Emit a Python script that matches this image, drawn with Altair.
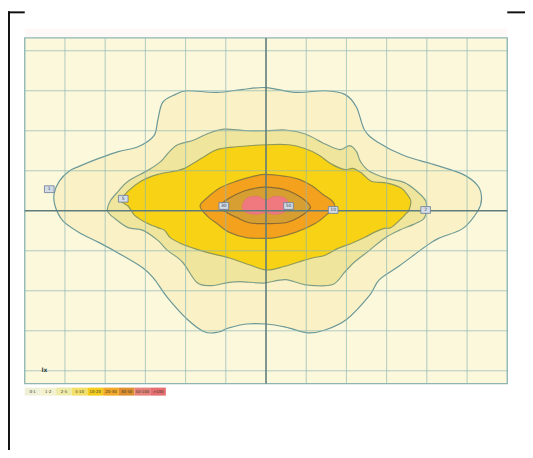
import altair as alt
import pandas as pd

# ---- plot extent (grid units) ----
X_MIN, X_MAX = -6.0, 6.0
Y_MIN, Y_MAX = -4.32, 4.32
GRID_X = list(range(-6, 7))
GRID_Y = list(range(-4, 5))

# ---- isolux contours, outer to inner (x, y in grid units) ----
C1 = [(0, 3.08), (0.73, 2.96), (1.47, 3.00), (1.96, 2.91), (2.25, 2.59), (2.45, 2.02), (2.77, 1.72),
      (3.43, 1.38), (4.16, 1.16), (4.90, 0.91), (5.27, 0.62), (5.36, 0.30), (5.27, 0.00), (4.90, -0.44),
      (4.29, -0.69), (3.97, -0.89), (3.31, -1.38), (2.82, -1.72), (2.57, -2.12), (2.01, -2.71),
      (1.47, -2.98), (1.03, -3.05), (0.49, -2.91), (0, -2.83), (-0.49, -2.83), (-0.93, -2.93),
      (-1.18, -3.03), (-1.52, -3.03), (-1.96, -2.71), (-2.45, -2.17), (-2.77, -1.72), (-3.06, -1.43),
      (-3.67, -1.06), (-4.16, -0.79), (-4.65, -0.54), (-5.05, -0.25), (-5.24, 0.10), (-5.27, 0.42),
      (-5.14, 0.74), (-4.90, 0.99), (-4.65, 1.11), (-4.16, 1.31), (-3.67, 1.48), (-3.18, 1.60),
      (-2.79, 1.87), (-2.69, 2.27), (-2.57, 2.71), (-2.25, 2.91), (-1.96, 3.00), (-1.22, 2.96),
      (-0.61, 3.03)]
C2 = [(0, 2.00), (0.49, 2.02), (0.98, 1.92), (1.47, 1.67), (1.84, 1.53), (2.08, 1.63), (2.25, 1.48),
      (2.35, 1.23), (2.57, 0.99), (3.01, 0.81), (3.43, 0.71), (3.75, 0.49), (3.97, 0.25), (3.99, 0.00),
      (3.92, -0.20), (3.67, -0.34), (3.31, -0.49), (2.94, -0.69), (2.57, -0.99), (2.20, -1.28),
      (1.96, -1.53), (1.64, -1.85), (0.98, -1.85), (0.49, -1.72), (0, -1.80), (-0.24, -1.80),
      (-0.66, -1.77), (-0.98, -1.80), (-1.35, -1.87), (-1.71, -1.80), (-2.08, -1.28), (-2.45, -0.99),
      (-2.69, -0.74), (-3.06, -0.49), (-3.43, -0.42), (-3.75, -0.20), (-3.94, 0.00), (-3.87, 0.25),
      (-3.67, 0.49), (-3.43, 0.74), (-2.94, 1.01), (-2.62, 1.23), (-2.40, 1.48), (-2.20, 1.65),
      (-1.79, 1.77), (-1.47, 1.92), (-1.05, 2.04), (-0.49, 2.00)]
C3 = [(0, 1.65), (0.56, 1.65), (0.98, 1.55), (1.30, 1.40), (1.64, 1.16), (1.96, 1.03), (2.16, 1.06),
      (2.38, 0.94), (2.62, 0.74), (3.01, 0.69), (3.36, 0.57), (3.50, 0.42), (3.60, 0.25), (3.55, 0.00),
      (3.48, -0.07), (3.36, -0.20), (3.11, -0.42), (2.94, -0.44), (2.69, -0.54), (2.45, -0.67),
      (2.13, -0.81), (1.79, -0.94), (1.47, -1.11), (1.15, -1.18), (0.81, -1.28), (0.42, -1.40),
      (0, -1.48), (-0.42, -1.35), (-0.91, -1.18), (-1.40, -1.06), (-1.79, -0.94), (-2.13, -0.81),
      (-2.38, -0.67), (-2.52, -0.49), (-2.69, -0.42), (-2.94, -0.32), (-3.26, -0.12), (-3.43, 0.12),
      (-3.60, 0.25), (-3.43, 0.49), (-3.11, 0.74), (-2.69, 0.91), (-2.28, 0.99), (-2.03, 1.06),
      (-1.54, 1.35), (-1.22, 1.53), (-0.73, 1.60)]
C4 = [(-1.64, 0.12), (-1.47, 0.32), (-1.15, 0.57), (-0.73, 0.74), (-0.32, 0.86), (0, 0.91), (0.49, 0.86),
      (0.81, 0.79), (1.15, 0.62), (1.40, 0.42), (1.64, 0.25), (1.71, 0.10), (1.54, -0.07), (1.22, -0.32),
      (0.73, -0.54), (0.24, -0.67), (0, -0.69), (-0.49, -0.67), (-0.91, -0.54), (-1.22, -0.32),
      (-1.47, -0.12)]
C5 = [(-1.15, 0.12), (-0.91, 0.32), (-0.56, 0.49), (-0.24, 0.57), (0, 0.59), (0.42, 0.54), (0.73, 0.42),
      (0.98, 0.25), (1.10, 0.07), (0.81, -0.17), (0.49, -0.30), (0, -0.32), (-0.42, -0.30), (-0.73, -0.17),
      (-1.05, 0.00)]
C6 = [(-0.59, 0.12), (-0.47, 0.32), (-0.20, 0.36), (0, 0.27), (0.20, 0.36), (0.47, 0.32), (0.56, 0.15),
      (0.47, -0.03), (0.20, -0.09), (0, -0.05), (-0.24, -0.09), (-0.52, -0.03)]

CONTOURS = [C1, C2, C3, C4, C5, C6]
FILLS = ["#FAF2C6", "#EFE59C", "#F8D214", "#F4A11E", "#D79E32", "#F0787F"]
STROKES = ["#6A9898", "#7E9E88", "#8F9A5A", "#8F7C3A", "#8A6A30", "#E07078"]

# contour value labels
LABEL_X = [-5.39, -3.55, -1.05, 0.56, 1.67, 3.97]
LABEL_Y = [0.54, 0.30, 0.12, 0.12, 0.02, 0.02]
LABEL_T = ["1", "5", "30", "50", "10", "2"]

# colour legend
LEG_LABELS = ["0-1", "1-2", "2-5", "5-10", "10-20", "20-30", "30-50", "50-100", ">100"]
LEG_COLORS = ["#EEF0D8", "#F4F1CF", "#EEEBAA", "#F3E06A", "#F4CC1E", "#F2A828", "#DE9030", "#E8837A", "#E66F72"]

XS = alt.Scale(domain=[X_MIN, X_MAX], range=[17, 507], nice=False, zero=False)
YS = alt.Scale(domain=[Y_MIN, Y_MAX], range=[378, 27], nice=False, zero=False)
FONT = "DejaVu Sans"

layers = []

# faint header band above the plot
hb = pd.DataFrame({"x0": [X_MIN], "x1": [X_MAX], "y0": [4.35], "y1": [4.55]})
layers.append(alt.Chart(hb).mark_rect(fill="#FEF8F6").encode(
    x=alt.X("x0:Q", scale=XS, axis=None), x2="x1:Q",
    y=alt.Y("y0:Q", scale=YS, axis=None), y2="y1:Q"))

# plot background
bg = pd.DataFrame({"x0": [X_MIN], "x1": [X_MAX], "y0": [Y_MIN], "y1": [Y_MAX]})
layers.append(alt.Chart(bg).mark_rect(fill="#FCF8DC", stroke="#8FB5B2", strokeWidth=1.2).encode(
    x=alt.X("x0:Q", scale=XS, axis=None), x2="x1:Q",
    y=alt.Y("y0:Q", scale=YS, axis=None), y2="y1:Q"))

# contours
for k, (pts, f, s) in enumerate(zip(CONTOURS, FILLS, STROKES)):
    df = pd.DataFrame({"x": [p[0] for p in pts], "y": [p[1] for p in pts], "i": range(len(pts))})
    layers.append(alt.Chart(df).mark_line(
        interpolate="cardinal-closed", fill=f, stroke=s, strokeWidth=1.2 if k < 5 else 0.6
    ).encode(
        x=alt.X("x:Q", scale=XS, axis=None), y=alt.Y("y:Q", scale=YS, axis=None), order="i:Q"))

# grid lines
gv = pd.DataFrame({"x": GRID_X, "y0": Y_MIN, "y1": Y_MAX})
gv = gv[gv.x != 0]
gh = pd.DataFrame({"y": GRID_Y, "x0": X_MIN, "x1": X_MAX})
gh = gh[gh.y != 0]
layers.append(alt.Chart(gv).mark_rule(stroke="#8DB7B4", strokeWidth=1, opacity=0.7).encode(
    x=alt.X("x:Q", scale=XS, axis=None), y=alt.Y("y0:Q", scale=YS, axis=None), y2="y1:Q"))
layers.append(alt.Chart(gh).mark_rule(stroke="#8DB7B4", strokeWidth=1, opacity=0.7).encode(
    y=alt.Y("y:Q", scale=YS, axis=None), x=alt.X("x0:Q", scale=XS, axis=None), x2="x1:Q"))

# centre axes
cv = pd.DataFrame({"x": [0], "y0": [Y_MIN], "y1": [Y_MAX]})
ch = pd.DataFrame({"y": [0], "x0": [X_MIN], "x1": [X_MAX]})
layers.append(alt.Chart(cv).mark_rule(stroke="#5E7C7C", strokeWidth=1.6).encode(
    x=alt.X("x:Q", scale=XS, axis=None), y=alt.Y("y0:Q", scale=YS, axis=None), y2="y1:Q"))
layers.append(alt.Chart(ch).mark_rule(stroke="#5E7C7C", strokeWidth=1.4).encode(
    y=alt.Y("y:Q", scale=YS, axis=None), x=alt.X("x0:Q", scale=XS, axis=None), x2="x1:Q"))

# contour labels
lab = pd.DataFrame({"x": LABEL_X, "y": LABEL_Y, "t": LABEL_T})
layers.append(alt.Chart(lab).transform_calculate(
    xa="datum.x - 0.12", xb="datum.x + 0.12", ya="datum.y - 0.085", yb="datum.y + 0.085"
).mark_rect(fill="#D3DCE6", stroke="#6A7C98", strokeWidth=0.8).encode(
    x=alt.X("xa:Q", scale=XS, axis=None), x2="xb:Q",
    y=alt.Y("ya:Q", scale=YS, axis=None), y2="yb:Q"))
layers.append(alt.Chart(lab).mark_text(fontSize=4.5, font=FONT, color="#334455").encode(
    x=alt.X("x:Q", scale=XS, axis=None), y=alt.Y("y:Q", scale=YS, axis=None), text="t:N"))

# small unit mark bottom-left
um = pd.DataFrame({"x": [-5.51], "y": [-3.99], "t": ["lx"]})
layers.append(alt.Chart(um).mark_text(fontSize=6, font=FONT, fontWeight="bold", color="#334444").encode(
    x=alt.X("x:Q", scale=XS, axis=None), y=alt.Y("y:Q", scale=YS, axis=None), text="t:N"))

# colour legend bar under the plot
leg = pd.DataFrame({"label": LEG_LABELS, "color": LEG_COLORS, "idx": range(len(LEG_LABELS))})
legbase = alt.Chart(leg).transform_calculate(
    xa="-6 + datum.idx * 0.39", xb="-6 + (datum.idx + 1) * 0.39", xm="-6 + (datum.idx + 0.5) * 0.39",
    ya="-4.42", yb="-4.62", ym="-4.52")
layers.append(legbase.mark_rect().encode(
    x=alt.X("xa:Q", scale=XS, axis=None), x2="xb:Q",
    y=alt.Y("ya:Q", scale=YS, axis=None), y2="yb:Q",
    fill=alt.Fill("color:N", scale=None, legend=None)))
layers.append(legbase.mark_text(fontSize=4, font=FONT, color="#3A3A2A").encode(
    x=alt.X("xm:Q", scale=XS, axis=None), y=alt.Y("ym:Q", scale=YS, axis=None), text="label:N"))

# outer figure frame (decoration)
frame_df = pd.DataFrame({"k": [0]})
layers.append(alt.Chart(frame_df).mark_rule(stroke="#111111", strokeWidth=2).encode(
    x=alt.value(1), y=alt.value(0), y2=alt.value(450)))
layers.append(alt.Chart(frame_df).mark_rule(stroke="#111111", strokeWidth=2).encode(
    x=alt.value(0), x2=alt.value(17), y=alt.value(1)))
layers.append(alt.Chart(frame_df).mark_rule(stroke="#111111", strokeWidth=2).encode(
    x=alt.value(507), x2=alt.value(525), y=alt.value(1)))

chart = alt.layer(*layers).properties(
    width=525, height=442, padding=0, autosize="none", background="white"
).configure_view(stroke=None)

chart.save("out.html", embed_options={"renderer": "svg", "actions": False})
